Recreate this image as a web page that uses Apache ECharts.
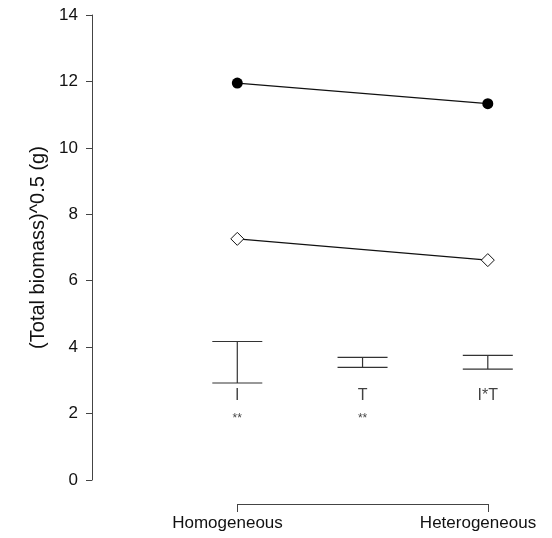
<!DOCTYPE html>
<html lang="en">
<head>
<meta charset="UTF-8">
<title>Total biomass</title>
<script src="https://cdn.jsdelivr.net/npm/echarts@6/dist/echarts.min.js"></script>
</head>
<body style="margin:0;background:#fff">
<div id="container" style="width:552px;height:538px"></div>
<script>
// data
const xPos = [1, 2];
const xLabels = ['Homogeneous', 'Heterogeneous'];
const filledVals = [11.95, 11.33];
const openVals = [7.26, 6.62];
const barX = [1, 1.5, 2];
const barLow = [2.92, 3.39, 3.34];
const barHigh = [4.17, 3.69, 3.75];
const barNames = ['I', 'T', 'I*T'];
const barSig = ['**', '**', ''];

// layout
const labelY = 2.55;
const sigY = 1.85;
const capHalf = 25;
const font = 'Liberation Sans, Arial, sans-serif';

let chart = echarts.init(document.getElementById('container'));

let option = {
    animation: false,
    grid: [
        {left: 92, top: 15, bottom: 58, right: 14.1},
        {left: 237.5, width: 250.5, bottom: 34, height: 1}
    ],
    xAxis: [
        {gridIndex: 0, type: 'value', min: 0.42, max: 2.2, show: false},
        {
            gridIndex: 1, type: 'value', min: 1, max: 2, interval: 1,
            axisLine: {lineStyle: {color: '#444', width: 1}},
            axisTick: {length: 8, lineStyle: {color: '#444'}},
            splitLine: {show: false},
            axisLabel: {
                margin: 11, fontSize: 17, color: '#111', fontFamily: font,
                padding: [0, 20, 0, 0],
                formatter: v => xLabels[xPos.indexOf(v)] || ''
            }
        }
    ],
    yAxis: [
        {
            gridIndex: 0, type: 'value', min: 0, max: 14, interval: 2,
            name: '(Total biomass)^0.5 (g)', nameLocation: 'middle', nameGap: 42,
            nameRotate: 90,
            nameTextStyle: {fontSize: 20, color: '#111', fontFamily: font},
            axisLine: {show: true, lineStyle: {color: '#444', width: 1}},
            axisTick: {show: true, length: 6, lineStyle: {color: '#444'}},
            splitLine: {show: false},
            axisLabel: {margin: 14, fontSize: 17, color: '#111', fontFamily: font}
        },
        {gridIndex: 1, type: 'value', show: false}
    ],
    series: [
        {
            type: 'line',
            data: xPos.map((x, i) => [x, filledVals[i]]),
            symbol: 'circle', symbolSize: 11,
            lineStyle: {color: '#111', width: 1.2},
            itemStyle: {color: '#000'}
        },
        {
            type: 'line',
            data: xPos.map((x, i) => [x, openVals[i]]),
            symbol: 'diamond', symbolSize: [13, 13],
            lineStyle: {color: '#111', width: 1.2},
            itemStyle: {color: '#fff', borderColor: '#111', borderWidth: 1}
        },
        {
            type: 'custom',
            data: barX.map((x, i) => [x, barLow[i], barHigh[i]]),
            renderItem: function (params, api) {
                let lo = api.coord([api.value(0), api.value(1)]);
                let hi = api.coord([api.value(0), api.value(2)]);
                let st = {stroke: '#333', lineWidth: 1.2};
                return {
                    type: 'group',
                    children: [
                        {type: 'line', shape: {x1: hi[0], y1: hi[1], x2: lo[0], y2: lo[1]}, style: st},
                        {type: 'line', shape: {x1: hi[0] - capHalf, y1: hi[1], x2: hi[0] + capHalf, y2: hi[1]}, style: st},
                        {type: 'line', shape: {x1: lo[0] - capHalf, y1: lo[1], x2: lo[0] + capHalf, y2: lo[1]}, style: st}
                    ]
                };
            }
        },
        {
            type: 'scatter', symbolSize: 0,
            data: barX.map((x, i) => ({value: [x, labelY], name: barNames[i]})),
            label: {show: true, position: 'inside', formatter: '{b}', fontSize: 16, color: '#111', fontFamily: font}
        },
        {
            type: 'scatter', symbolSize: 0,
            data: barX.map((x, i) => ({value: [x, sigY], name: barSig[i]})),
            label: {show: true, position: 'inside', formatter: '{b}', fontSize: 12, color: '#111', fontFamily: font}
        }
    ]
};

chart.setOption(option);
</script>
</body>
</html>
